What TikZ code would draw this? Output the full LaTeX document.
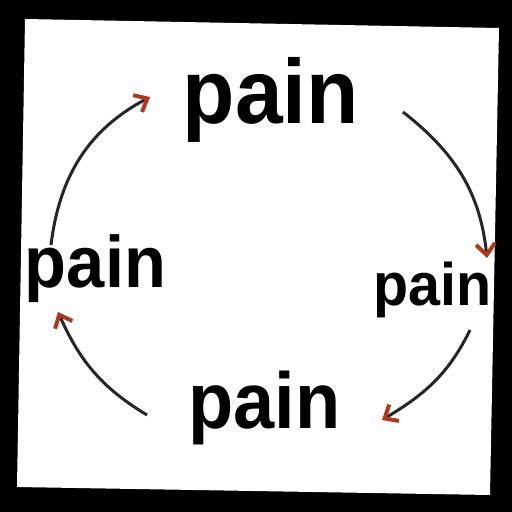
\documentclass[tikz,border=0pt]{standalone}
\usepackage{fontspec}
\setmainfont{Liberation Sans}
\usetikzlibrary{arrows.meta}
\definecolor{arrowred}{HTML}{AD3A1F}
\definecolor{shaft}{HTML}{262626}
\tikzset{
  painlabel/.style={inner sep=0pt, outer sep=0pt, font=\bfseries},
  cyclearrow/.style={draw=shaft, line width=3pt,
    -{Straight Barb[length=11pt,width=19pt,line width=4pt,color=arrowred]}}
}
\begin{document}
\begin{tikzpicture}[x=1pt,y=1pt]
\useasboundingbox (0,0) rectangle (512,512);
\fill[black] (0,0) rectangle (512,512);
\fill[white] (25,493) -- (499,484) -- (490,17) -- (17,25) -- cycle;
% labels
\node[painlabel] (top) at (271,412.5) {\resizebox*{176pt}{85pt}{\bfseries pain}};
\node[painlabel] (left) at (95.5,243) {\resizebox*{141pt}{68pt}{\bfseries pain}};
\node[painlabel] (right) at (432.5,222) {\resizebox*{118pt}{56pt}{\bfseries pain}};
\node[painlabel] (bottom) at (264.5,104) {\resizebox*{152pt}{74pt}{\bfseries pain}};
% arrow ends
\coordinate (a1s) at (51,267);
\coordinate (a1e) at (150,415);
\coordinate (a2s) at (403,400);
\coordinate (a2e) at (487,254);
\coordinate (a3s) at (470,182);
\coordinate (a3e) at (382,92);
\coordinate (a4s) at (147,97);
\coordinate (a4e) at (58,200);
\draw[cyclearrow] (a1s) to[out=83,in=208] (a1e);
\draw[cyclearrow] (a2s) to[out=-38,in=96] (a2e);
\draw[cyclearrow] (a3s) to[out=-116,in=31] (a3e);
\draw[cyclearrow] (a4s) to[out=149,in=294] (a4e);
\end{tikzpicture}
\end{document}
